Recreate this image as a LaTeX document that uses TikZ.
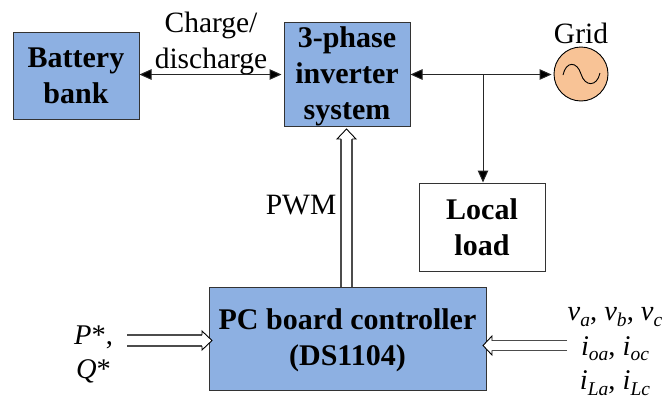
\documentclass[tikz,border=0pt]{standalone}
\usepackage{fontspec}
\setmainfont{Liberation Serif}
\usetikzlibrary{arrows.meta}
\newcommand\sbs[1]{\raisebox{-0.2em}{\fontsize{19.5}{19.5}\selectfont\textit{#1}}}
\newcommand\topadd[1]{\rule{0pt}{#1}}
\definecolor{boxblue}{RGB}{141,176,226}
\definecolor{gridorange}{RGB}{248,195,150}
\tikzset{
  x=1pt,y=-1pt,
  every node/.style={font=\fontsize{29.5}{36}\selectfont,align=center,inner sep=0pt},
  block/.style={draw=black!80,line width=1pt,fill=boxblue,font=\fontsize{30}{36}\selectfont\bfseries},
  plainblock/.style={block,fill=white},
  label/.style={font=\fontsize{29.5}{36}\selectfont},
  mathlabel/.style={font=\fontsize{28.5}{34.5}\selectfont},
  link/.style={line width=1pt,draw=black!85,{Triangle[length=12pt,width=10.5pt,fill=black]}-{Triangle[length=12pt,width=10.5pt,fill=black]}},
  drop/.style={line width=1pt,draw=black!85,-{Triangle[length=12pt,width=10.5pt,fill=black]}},
  rail/.style={line width=1.1pt,draw=black!70},
  hollowhead/.style={draw=black,fill=white,line width=0.9pt,line join=miter}
}
\begin{document}
\begin{tikzpicture}
\useasboundingbox (0,0) rectangle (665,399);
\node[block,minimum width=126pt,minimum height=87pt] (bat) at (76,75.5) {Battery\\bank};
\node[block,minimum width=126pt,minimum height=104pt] (inv) at (347,74) {\topadd{24.5pt}3-phase\\inverter\\system};
\node[plainblock,minimum width=126pt,minimum height=88pt] (load) at (482,227) {Local\\load};
\node[block,minimum width=277pt,minimum height=103pt] (pc) at (347.5,338.5) {\topadd{23.5pt}PC board controller\\(DS1104)};
\node[circle,draw=black,line width=0.9pt,fill=gridorange,minimum size=54pt] (grid) at (581,74) {};
\draw[line width=0.9pt] (563,75) .. controls (566,61) and (577,61) .. (581,74) .. controls (585,87) and (597,87) .. (600,73);
\node[label] (gridt) at (581,33) {Grid};
\node[label] (chg) at (211,43) {Charge/\\discharge};
\node[label] (pwm) at (301,205) {PWM};
\node[mathlabel] (pq) at (93.5,354.5) {\textit{P}*,\\\textit{Q}*};
\node[mathlabel] (meas) at (615,351.5) {\textit{v}\sbs{a}, \textit{v}\sbs{b}, \textit{v}\sbs{c}\\\textit{i}\sbs{oa}, \textit{i}\sbs{oc}\\\textit{i}\sbs{La}, \textit{i}\sbs{Lc}};
\coordinate (jn) at (483,74.5);
\coordinate (pqs) at (127,340.5);
\coordinate (meass) at (567,345.5);
\coordinate (pwms) at (346.5,287);
\coordinate (pwmt) at (346.5,129);
\coordinate (pqt) at (212,340.5);
\coordinate (measnt) at (483,345.5);
\draw[link,shorten >=2pt] (bat.east |- jn) -- (inv.west |- jn);
\draw[link,shorten >=2pt] (inv.east |- jn) -- (grid.west |- jn);
\draw[drop] (jn) -- (jn |- load.north);
% PWM: two rails and an open head, pc up to inv
\draw[rail] ([xshift=-5.5pt]pwms) -- ([xshift=-5.5pt,yshift=-10pt]pwmt);
\draw[rail] ([xshift=5.5pt]pwms) -- ([xshift=5.5pt,yshift=-10pt]pwmt);
\draw[hollowhead] ([xshift=-5.5pt,yshift=-10pt]pwmt) -- ([xshift=-9.5pt,yshift=-10pt]pwmt) -- (pwmt) -- ([xshift=9.5pt,yshift=-10pt]pwmt) -- ([xshift=5.5pt,yshift=-10pt]pwmt);
% P*, Q* into pc
\draw[rail] ([yshift=5.5pt]pqs) -- ([xshift=-10pt,yshift=5.5pt]pqt);
\draw[rail] ([yshift=-5.5pt]pqs) -- ([xshift=-10pt,yshift=-5.5pt]pqt);
\draw[hollowhead] ([xshift=-10pt,yshift=5.5pt]pqt) -- ([xshift=-10pt,yshift=9.5pt]pqt) -- (pqt) -- ([xshift=-10pt,yshift=-9.5pt]pqt) -- ([xshift=-10pt,yshift=-5.5pt]pqt);
% measurements into pc
\draw[rail] ([yshift=4.75pt]meass) -- ([xshift=9pt,yshift=4.75pt]measnt);
\draw[rail] ([yshift=-4.75pt]meass) -- ([xshift=9pt,yshift=-4.75pt]measnt);
\draw[hollowhead] ([xshift=9pt,yshift=4.75pt]measnt) -- ([xshift=9pt,yshift=9.5pt]measnt) -- (measnt) -- ([xshift=9pt,yshift=-9.5pt]measnt) -- ([xshift=9pt,yshift=-4.75pt]measnt);
\end{tikzpicture}
\end{document}
